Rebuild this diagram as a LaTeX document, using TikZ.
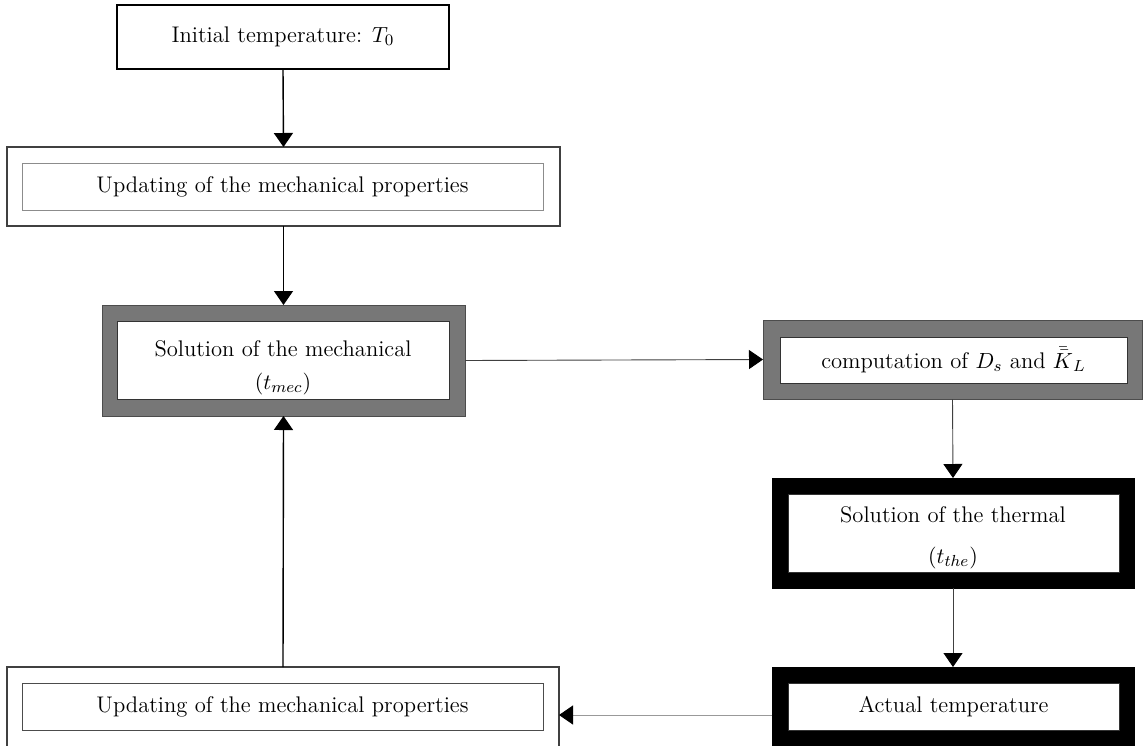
\documentclass[tikz,border=0pt]{standalone}
\usetikzlibrary{arrows.meta,calc}
\definecolor{framegray}{HTML}{777777}
\begin{document}
\begin{tikzpicture}[x=0.5pt,y=-0.5pt,
  every node/.style={inner sep=0pt,outer sep=0pt},
  txt/.style={font=\fontsize{11.3}{13.5}\selectfont,anchor=base},
  plainbox/.style={draw=black,line width=0.65pt,fill=white,font=\fontsize{11.3}{13.5}\selectfont},
  dblouter/.style={draw=black!75,line width=0.6pt,fill=white},
  dblinner/.style={draw=black!45,line width=0.5pt,fill=white,font=\fontsize{11.3}{13.5}\selectfont},
  grayouter/.style={draw=black!70,line width=0.5pt,fill=framegray},
  blackouter/.style={draw=black,line width=0.5pt,fill=black},
  whiteinner/.style={draw=black!80,line width=0.5pt,fill=white,font=\fontsize{11.3}{13.5}\selectfont},
  thickarrow/.style={line width=0.7pt,-{Triangle[length=7pt,width=9.5pt]}},
  thinarrow/.style={draw=black!75,line width=0.45pt,-{Triangle[length=7pt,width=9.5pt,color=black,fill=black]}},
  faintarrow/.style={draw=black!40,line width=0.5pt,-{Triangle[length=7pt,width=9.5pt,color=black,fill=black]}}
]
\useasboundingbox (0,0) rectangle (1146,745);

% top box
\node[plainbox,minimum width=166pt,minimum height=32pt] (init) at (283,37) {Initial temperature: $T_0$};

% first updating box (double frame)
\node[dblouter,minimum width=276.5pt,minimum height=39.5pt] (upd1) at (283.5,186.5) {};
\node[dblinner,minimum width=260.5pt,minimum height=23.5pt] (upd1in) at (282.5,186.5) {Updating of the mechanical properties};

% mechanical solution (gray frame)
\node[grayouter,minimum width=181.5pt,minimum height=55.5pt] (mech) at (283.5,360.5) {};
\node[whiteinner,minimum width=166pt,minimum height=39pt] (mechin) at (283,360) {};
\node[txt] (mechA) at (283,356) {Solution of the mechanical};
\node[txt] (mechB) at (283,389) {$(t_{mec})$};

% computation (gray frame)
\node[grayouter,minimum width=189.5pt,minimum height=39.5pt] (comp) at (952.5,359.5) {};
\node[whiteinner,minimum width=173.5pt,minimum height=23pt] (compin) at (953.5,360) {computation of $D_s$ and $\bar{\bar{K}}_L$};

% thermal solution (black frame)
\node[blackouter,minimum width=181pt,minimum height=55pt] (therm) at (953,533) {};
\node[whiteinner,minimum width=165.5pt,minimum height=39pt] (thermin) at (953.5,533) {};
\node[txt] (thermA) at (953,522) {Solution of the thermal};
\node[txt] (thermB) at (953,563) {$(t_{the})$};

% actual temperature (black frame, runs past the lower edge)
\node[blackouter,minimum width=181pt,minimum height=48pt] (actual) at (953,715) {};
\node[whiteinner,minimum width=165.5pt,minimum height=23.5pt] (actualin) at (953.5,706.5) {Actual temperature};

% second updating box (runs past the lower edge)
\node[dblouter,minimum width=276pt,minimum height=48pt] (upd2) at (283,715) {};
\node[dblinner,draw=black!70,minimum width=260.5pt,minimum height=23.5pt] (upd2in) at (282.5,706.5) {Updating of the mechanical properties};

% connectors
\draw[thickarrow] (init.south) -- (upd1.north);
\draw[thickarrow] (upd1.south) -- (mech.north);
\draw[thinarrow] (mech.east) -- (comp.west);
\draw[thinarrow] (comp.south) -- (therm.north);
\draw[thinarrow] (therm.south) -- (actual.north);
\draw[faintarrow] (actual.west) -- (upd2.east);
\draw[thickarrow] (upd2.north) -- (mech.south);
\end{tikzpicture}
\end{document}
